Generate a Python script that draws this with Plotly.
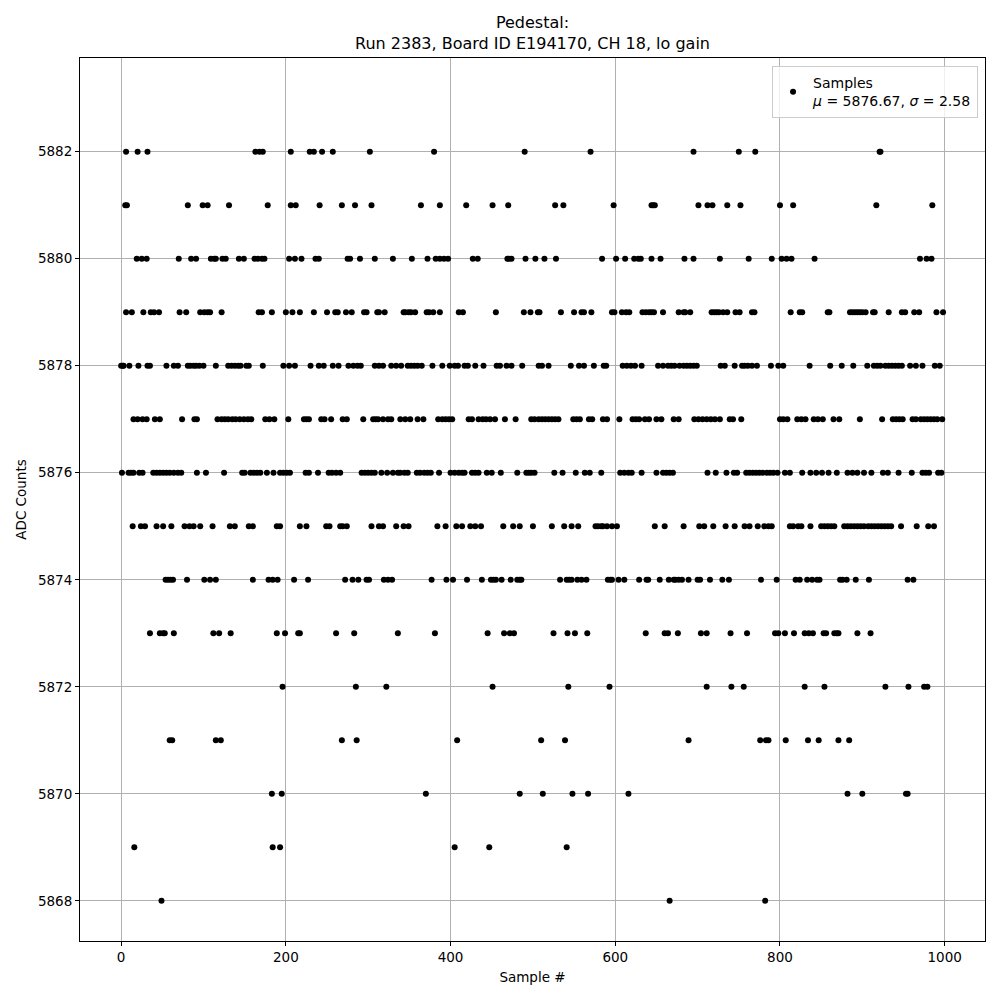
import plotly.graph_objects as go

samples_5882 = [6, 20, 32, 163, 168, 172, 206, 229, 234, 244, 257, 302, 380, 490, 570, 695, 750, 770, 921, 922]
samples_5881 = [5, 7, 81, 99, 105, 131, 178, 206, 212, 241, 268, 284, 304, 364, 387, 419, 451, 470, 527, 537,
                598, 644, 646, 648, 701, 712, 718, 736, 752, 800, 816, 917, 985]
samples_5880 = [19, 25, 31, 70, 85, 91, 109, 113, 115, 123, 127, 143, 149, 162, 166, 171, 174, 204, 211, 219,
                236, 240, 275, 278, 290, 308, 330, 353, 372, 382, 387, 392, 397, 427, 433, 469, 471, 474, 491,
                503, 514, 528, 584, 601, 612, 623, 628, 631, 644, 655, 684, 695, 727, 762, 790, 802, 808, 814,
                842, 970, 978, 984]
samples_5879 = [6, 13, 27, 36, 40, 46, 71, 79, 96, 101, 105, 108, 122, 167, 171, 183, 200, 208, 217, 234, 250,
                260, 263, 273, 280, 295, 298, 311, 313, 320, 343, 345, 349, 352, 357, 371, 374, 379, 387, 410,
                415, 455, 489, 497, 506, 508, 534, 550, 559, 562, 571, 596, 599, 608, 613, 617, 633, 637, 641,
                644, 647, 658, 677, 683, 685, 691, 717, 720, 723, 726, 731, 736, 746, 751, 766, 769, 813, 824,
                827, 858, 860, 885, 888, 891, 894, 897, 900, 904, 913, 915, 932, 948, 952, 963, 969, 990, 998]
samples_5878 = [0, 2, 3, 10, 21, 32, 35, 55, 64, 69, 81, 84, 88, 91, 95, 100, 115, 130, 134, 138, 142, 145,
                152, 155, 172, 197, 204, 211, 230, 240, 246, 257, 264, 276, 282, 287, 291, 308, 313, 318, 328,
                334, 340, 348, 352, 356, 360, 365, 378, 390, 399, 405, 409, 417, 421, 430, 440, 456, 460, 468,
                474, 487, 507, 511, 519, 546, 556, 562, 574, 586, 589, 609, 614, 619, 624, 632, 652, 658, 664,
                668, 672, 678, 683, 687, 691, 695, 699, 728, 733, 745, 754, 757, 761, 766, 772, 789, 798, 804,
                836, 861, 875, 889, 906, 914, 918, 922, 928, 932, 936, 940, 944, 948, 958, 965, 973, 988, 994]
samples_5877 = [15, 20, 26, 31, 41, 47, 74, 89, 92, 117, 122, 126, 130, 135, 139, 144, 149, 154, 158, 175,
                180, 186, 203, 222, 225, 228, 243, 247, 255, 269, 274, 294, 306, 309, 312, 318, 324, 328, 339,
                345, 351, 360, 367, 385, 390, 394, 398, 402, 422, 426, 434, 439, 443, 448, 454, 466, 479, 498,
                502, 507, 511, 515, 519, 523, 527, 531, 549, 553, 557, 568, 572, 585, 590, 605, 621, 625, 629,
                636, 641, 650, 656, 671, 677, 696, 701, 706, 711, 716, 721, 727, 739, 743, 753, 800, 804, 809,
                821, 826, 831, 841, 846, 852, 865, 872, 897, 924, 937, 941, 945, 949, 961, 965, 971, 975, 979,
                983, 987, 991, 997]
samples_5876 = [1, 9, 12, 15, 22, 26, 39, 43, 47, 51, 55, 59, 64, 69, 73, 92, 103, 125, 147, 150, 157, 161,
                165, 169, 177, 185, 193, 197, 201, 205, 224, 228, 239, 252, 256, 261, 266, 292, 296, 300, 304,
                308, 316, 323, 330, 336, 339, 344, 348, 359, 363, 368, 372, 376, 386, 400, 405, 410, 414, 417,
                426, 430, 434, 444, 450, 461, 481, 492, 495, 498, 502, 526, 536, 552, 563, 569, 583, 606, 611,
                616, 620, 632, 650, 658, 662, 666, 670, 712, 722, 735, 744, 748, 759, 763, 767, 771, 775, 779,
                784, 788, 792, 797, 806, 812, 827, 837, 844, 851, 859, 869, 882, 888, 894, 902, 911, 925, 931,
                944, 960, 973, 977, 981, 992, 996]
samples_5875 = [14, 24, 29, 43, 51, 61, 77, 83, 88, 96, 111, 132, 138, 155, 160, 189, 193, 217, 225, 249, 253,
                266, 269, 274, 304, 313, 318, 334, 343, 349, 384, 394, 407, 414, 424, 430, 437, 464, 476, 484,
                500, 523, 538, 547, 555, 576, 579, 583, 585, 590, 596, 602, 648, 660, 683, 702, 708, 719, 734,
                745, 757, 763, 773, 781, 786, 790, 812, 816, 822, 826, 837, 850, 854, 858, 862, 866, 878, 882,
                886, 890, 894, 898, 902, 907, 911, 915, 919, 923, 927, 931, 935, 947, 966, 980, 987]
samples_5874 = [54, 57, 60, 63, 80, 101, 108, 115, 160, 179, 184, 190, 210, 227, 272, 281, 288, 298, 301, 319,
                324, 329, 377, 395, 403, 420, 438, 449, 452, 455, 462, 473, 481, 484, 486, 533, 541, 544, 547,
                554, 559, 565, 591, 594, 596, 604, 611, 629, 638, 640, 654, 665, 671, 673, 677, 681, 689, 700,
                703, 715, 730, 738, 777, 796, 819, 824, 833, 839, 845, 848, 873, 876, 881, 892, 908, 955, 962]
samples_5873 = [35, 47, 51, 53, 64, 112, 119, 133, 189, 199, 215, 217, 261, 283, 336, 381, 445, 465, 472, 477,
                525, 542, 551, 566, 637, 660, 664, 676, 704, 711, 740, 760, 794, 798, 806, 817, 830, 835, 840,
                853, 856, 866, 869, 871, 894, 910]
samples_5872 = [196, 285, 322, 451, 543, 593, 711, 741, 756, 830, 854, 928, 956, 975, 979]
samples_5871 = [59, 62, 115, 121, 268, 286, 408, 510, 539, 689, 776, 783, 786, 807, 834, 847, 871, 884]
samples_5870 = [183, 195, 370, 484, 512, 548, 567, 616, 882, 900, 953, 955]
samples_5869 = [16, 184, 193, 405, 447, 541]
samples_5868 = [49, 666, 782]

levels = {
    5882: samples_5882, 5881: samples_5881, 5880: samples_5880, 5879: samples_5879,
    5878: samples_5878, 5877: samples_5877, 5876: samples_5876, 5875: samples_5875,
    5874: samples_5874, 5873: samples_5873, 5872: samples_5872, 5871: samples_5871,
    5870: samples_5870, 5869: samples_5869, 5868: samples_5868,
}

pairs = sorted((s, lvl) for lvl, idx in levels.items() for s in idx)
x_vals = [p[0] for p in pairs]
y_vals = [p[1] for p in pairs]

y_ticks = [5868, 5870, 5872, 5874, 5876, 5878, 5880, 5882]
x_ticks = [0, 200, 400, 600, 800, 1000]

title_text = "Pedestal:<br>Run 2383, Board ID E194170, CH 18, lo gain"
legend_text = "Samples<br><i>μ</i> = 5876.67, <i>σ</i> = 2.58"

fig = go.Figure()
fig.add_trace(go.Scatter(
    x=x_vals, y=y_vals, mode="markers",
    marker=dict(color="black", size=6),
    name=legend_text, showlegend=True,
))

font_family = "DejaVu Sans"
fig.update_layout(
    width=1000, height=1000,
    paper_bgcolor="white", plot_bgcolor="white",
    margin=dict(l=80, r=15, t=58, b=59, autoexpand=False),
    font=dict(family=font_family, size=13, color="black"),
    title=dict(text=title_text, x=0.5, xanchor="center", xref="paper",
               y=0.972, yanchor="top", yref="container",
               font=dict(size=16, family=font_family, color="black")),
    showlegend=True,
    legend=dict(x=0.9923, y=0.991, xanchor="right", yanchor="top",
                bgcolor="rgba(255,255,255,0.8)", bordercolor="#cccccc", borderwidth=1,
                font=dict(size=14, family=font_family), itemsizing="trace"),
)
fig.update_xaxes(
    range=[-49.95, 1048.95], tickvals=x_ticks, ticktext=[str(v) for v in x_ticks],
    showgrid=True, gridcolor="#b0b0b0", gridwidth=0.8,
    showline=True, linecolor="black", linewidth=1, mirror=True,
    ticks="outside", ticklen=4, tickcolor="black", zeroline=False, automargin=False,
    title=dict(text="Sample #", font=dict(size=13.5), standoff=8),
    tickfont=dict(size=13.5),
)
fig.update_yaxes(
    range=[5867.25, 5883.75], tickvals=y_ticks, ticktext=[str(v) for v in y_ticks],
    showgrid=True, gridcolor="#b0b0b0", gridwidth=0.8,
    showline=True, linecolor="black", linewidth=1, mirror=True,
    ticks="outside", ticklen=4, tickcolor="black", zeroline=False, automargin=False,
    title=dict(text="ADC Counts", font=dict(size=13.5), standoff=8),
    tickfont=dict(size=13.5),
)

fig.write_html("out.html", config={"displayModeBar": False},
               post_script="document.body.style.margin='0';")
